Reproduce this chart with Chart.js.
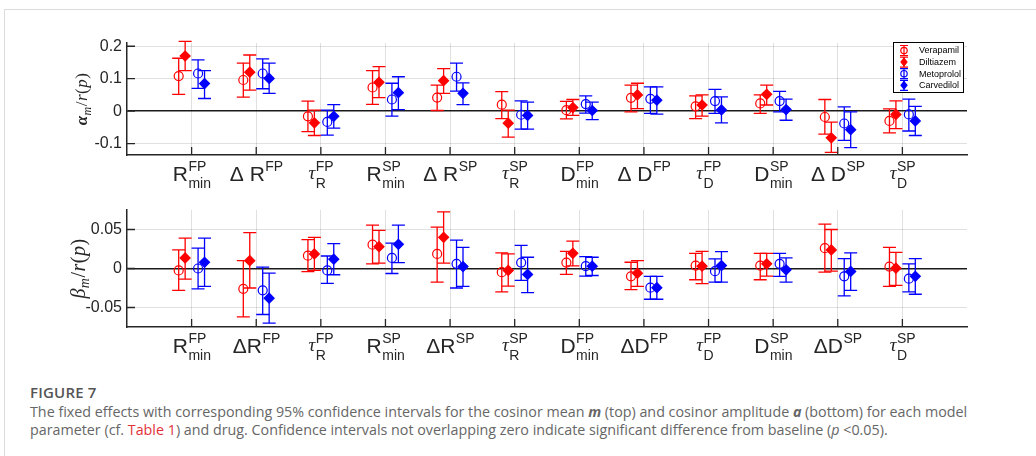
<!DOCTYPE html>
<html>
<head>
<meta charset="utf-8">
<script src="https://cdn.jsdelivr.net/npm/chart.js@4/dist/chart.umd.min.js"></script>
<style>
  html, body { margin: 0; padding: 0; background: #fff; }
  body { width: 1036px; height: 456px; overflow: hidden; position: relative; }
  #frame { position: absolute; left: 4px; top: 9px; width: 1100px; height: 500px; border: 1px solid #dcdcdc; }
  #topWrap { position: absolute; left: 0; top: 0; width: 1036px; height: 195px; }
  #botWrap { position: absolute; left: 0; top: 195px; width: 1036px; height: 175px; }
  #figTitle { position: absolute; left: 30px; top: 382px; font-family: "Open Sans", sans-serif; font-weight: 600; font-size: 15px; color: #555; letter-spacing: 0.2px; }
  #caption { position: absolute; left: 30px; top: 403px; font-family: "Open Sans", sans-serif; font-size: 14.3px; line-height: 18px; color: #666; white-space: nowrap; }
  #caption .red { color: #e2313a; }
</style>
</head>
<body>
<div id="frame"></div>
<div id="topWrap"><canvas id="topChart"></canvas></div>
<div id="botWrap"><canvas id="botChart"></canvas></div>
<div id="figTitle">FIGURE 7</div>
<div id="caption">The fixed effects with corresponding 95% confidence intervals for the cosinor mean <b><i>m</i></b> (top) and cosinor amplitude <b><i>a</i></b> (bottom) for each model<br>parameter (cf. <span class="red">Table 1</span>) and drug. Confidence intervals not overlapping zero indicate significant difference from baseline (<i>p</i> &lt;0.05).</div>

<script>
// model parameters (x categories)
const labelBaseTop = ['R', 'Δ R', 'τ', 'R', 'Δ R', 'τ', 'D', 'Δ D', 'τ', 'D', 'Δ D', 'τ'];
const labelBaseBot = ['R', 'ΔR', 'τ', 'R', 'ΔR', 'τ', 'D', 'ΔD', 'τ', 'D', 'ΔD', 'τ'];
const labelSup = ['FP', 'FP', 'FP', 'SP', 'SP', 'SP', 'FP', 'FP', 'FP', 'SP', 'SP', 'SP'];
const labelSub = ['min', '', 'R', 'min', '', 'R', 'min', '', 'D', 'min', '', 'D'];

const drugs = ['Verapamil', 'Diltiazem', 'Metoprolol', 'Carvedilol'];
const drugColors = ['#ff0000', '#ff0000', '#0000ff', '#0000ff'];
const drugMarkers = ['circle', 'rectRot', 'circle', 'rectRot'];
const drugFilled = [false, true, false, true];
const drugOffsets = [-0.2, -0.1, 0.1, 0.2];

// top panel: cosinor mean (alpha_m / r(p))
const topVer = [0.108, 0.096, -0.016, 0.073, 0.042, 0.020, 0.003, 0.041, 0.015, 0.024, -0.018, -0.030];
const topVerLo = [0.052, 0.043, -0.063, 0.021, 0.002, -0.023, -0.024, -0.002, -0.023, -0.007, -0.071, -0.067];
const topVerHi = [0.163, 0.148, 0.031, 0.125, 0.080, 0.060, 0.030, 0.080, 0.047, 0.050, 0.036, 0.007];
const topDil = [0.170, 0.120, -0.036, 0.089, 0.094, -0.037, 0.011, 0.050, 0.019, 0.052, -0.082, -0.010];
const topDilLo = [0.125, 0.065, -0.075, 0.042, 0.055, -0.080, -0.013, 0.008, -0.015, 0.019, -0.127, -0.054];
const topDilHi = [0.215, 0.173, 0.003, 0.137, 0.131, 0.003, 0.036, 0.086, 0.050, 0.080, -0.034, 0.032];
const topMet = [0.116, 0.116, -0.033, 0.036, 0.106, -0.011, 0.022, 0.038, 0.031, 0.031, -0.038, -0.010];
const topMetLo = [0.070, 0.069, -0.074, -0.015, 0.062, -0.055, -0.006, -0.007, -0.007, -0.002, -0.090, -0.061];
const topMetHi = [0.158, 0.161, 0.003, 0.086, 0.148, 0.032, 0.047, 0.075, 0.067, 0.061, 0.013, 0.037];
const topCar = [0.085, 0.101, -0.016, 0.057, 0.055, -0.013, 0.002, 0.034, 0.004, 0.005, -0.057, -0.030];
const topCarLo = [0.039, 0.055, -0.052, 0.005, 0.020, -0.055, -0.026, -0.009, -0.036, -0.028, -0.112, -0.075];
const topCarHi = [0.125, 0.148, 0.020, 0.106, 0.087, 0.028, 0.028, 0.075, 0.044, 0.037, -0.002, 0.015];

// bottom panel: cosinor amplitude (beta_m / r(p))
const botVer = [-0.0025, -0.026, 0.0165, 0.0305, 0.0187, -0.0047, 0.0076, -0.010, 0.0038, 0.0038, 0.026, 0.0025];
const botVerLo = [-0.028, -0.062, -0.004, 0.006, -0.0174, -0.030, -0.0076, -0.027, -0.0144, -0.0144, -0.0047, -0.023];
const botVerHi = [0.024, 0.010, 0.037, 0.0555, 0.053, 0.020, 0.022, 0.008, 0.0195, 0.0195, 0.057, 0.027];
const botDil = [0.0136, 0.010, 0.0187, 0.028, 0.040, -0.0025, 0.0195, -0.006, 0.003, 0.006, 0.0238, 0.0004];
const botDilLo = [-0.0136, -0.025, -0.0025, 0.0068, 0.0068, -0.0225, 0.0034, -0.023, -0.0195, -0.0098, -0.0034, -0.0216];
const botDilHi = [0.039, 0.046, 0.040, 0.049, 0.0725, 0.0187, 0.035, 0.010, 0.022, 0.0195, 0.050, 0.0207];
const botMet = [0.0, -0.028, -0.0025, 0.0136, 0.006, 0.0076, 0.003, -0.0246, -0.0034, 0.006, -0.010, -0.013];
const botMetLo = [-0.026, -0.059, -0.019, -0.0064, -0.025, -0.0153, -0.0098, -0.0394, -0.0174, -0.010, -0.035, -0.030];
const botMetHi = [0.026, 0.0017, 0.016, 0.0326, 0.0365, 0.0297, 0.0153, -0.010, 0.0123, 0.0195, 0.0127, 0.006];
const botCar = [0.008, -0.038, 0.012, 0.031, 0.0025, -0.0076, 0.003, -0.0246, 0.0038, -0.0017, -0.0038, -0.010];
const botCarLo = [-0.023, -0.070, -0.008, 0.0076, -0.023, -0.031, -0.009, -0.0394, -0.0174, -0.0174, -0.028, -0.033];
const botCarHi = [0.039, -0.006, 0.032, 0.0555, 0.027, 0.0144, 0.0144, -0.010, 0.0216, 0.0136, 0.020, 0.0127];

const yTicksTop = [-0.1, 0, 0.1, 0.2];
const yTicksBot = [-0.05, 0, 0.05];

const axisColor = '#262626';
const gridColor = 'rgba(38,38,38,0.14)';
const sansFont = '"Liberation Sans", Arial, sans-serif';
const serifFont = '"Liberation Serif", "Times New Roman", serif';

function buildDatasets(est, lo, hi) {
  return drugs.map((name, d) => ({
    label: name,
    data: est[d].map((v, i) => ({ x: i + 1 + drugOffsets[d], y: v, lo: lo[d][i], hi: hi[d][i] })),
    borderColor: drugColors[d],
    backgroundColor: drugFilled[d] ? drugColors[d] : 'rgba(0,0,0,0)',
    pointStyle: drugMarkers[d],
    pointRadius: drugFilled[d] ? 5 : 4.5,
    pointBorderWidth: 1.2,
    showLine: false
  }));
}

// error bars, inside ticks, math-style tick labels, y title and legend
const figurePlugin = {
  id: 'figure',
  beforeDatasetsDraw(chart) {
    const ctx = chart.ctx;
    const xs = chart.scales.x, ys = chart.scales.y;
    ctx.save();
    chart.data.datasets.forEach(ds => {
      ctx.strokeStyle = ds.borderColor;
      ctx.lineWidth = 1.3;
      ds.data.forEach(pt => {
        const x = xs.getPixelForValue(pt.x);
        const y1 = ys.getPixelForValue(pt.lo);
        const y2 = ys.getPixelForValue(pt.hi);
        ctx.beginPath();
        ctx.moveTo(x, y1); ctx.lineTo(x, y2);
        ctx.moveTo(x - 6.5, y1); ctx.lineTo(x + 6.5, y1);
        ctx.moveTo(x - 6.5, y2); ctx.lineTo(x + 6.5, y2);
        ctx.stroke();
      });
    });
    ctx.restore();
  },
  afterDraw(chart, args, opts) {
    const ctx = chart.ctx;
    const xs = chart.scales.x, ys = chart.scales.y;
    const area = chart.chartArea;
    ctx.save();

    // tick marks point inward
    ctx.strokeStyle = axisColor;
    ctx.lineWidth = 1.3;
    ctx.beginPath();
    ys.ticks.forEach(t => {
      const y = ys.getPixelForValue(t.value);
      ctx.moveTo(area.left, y); ctx.lineTo(area.left + 8, y);
    });
    xs.ticks.forEach(t => {
      const x = xs.getPixelForValue(t.value);
      ctx.moveTo(x, area.bottom); ctx.lineTo(x, area.bottom - 8);
    });
    ctx.stroke();

    // category labels with super/subscripts
    ctx.fillStyle = axisColor;
    ctx.textBaseline = 'alphabetic';
    ctx.textAlign = 'left';
    const base = area.bottom + 25.5;
    opts.bases.forEach((b, i) => {
      const isTau = b === 'τ';
      const mainFont = isTau ? 'italic 19px ' + serifFont : '21px ' + sansFont;
      const scriptFont = '14px ' + sansFont;
      ctx.font = mainFont;
      const wb = ctx.measureText(b).width;
      ctx.font = scriptFont;
      const ws = Math.max(ctx.measureText(labelSup[i]).width, ctx.measureText(labelSub[i]).width);
      const cx = xs.getPixelForValue(i + 1);
      const x0 = cx - (wb + ws) / 2;
      ctx.font = mainFont;
      ctx.fillText(b, x0, isTau ? base - 1.5 : base);
      ctx.font = scriptFont;
      ctx.fillText(labelSup[i], x0 + wb + 0.5, base - 9.5);
      if (labelSub[i]) ctx.fillText(labelSub[i], x0 + wb + 0.5, base + 7.5);
    });

    // rotated y-axis title in math style
    ctx.save();
    ctx.translate(opts.titleX, (area.top + area.bottom) / 2);
    ctx.rotate(-Math.PI / 2);
    const fs = opts.titleSize;
    const parts = [
      { t: opts.greek, f: (opts.greekBold ? 'bold ' : '') + 'italic ' + fs + 'px ' + serifFont, dy: 0 },
      { t: 'm', f: 'italic ' + Math.round(fs * 0.7) + 'px ' + serifFont, dy: fs * 0.22 },
      { t: '/', f: fs + 'px ' + serifFont, dy: 0 },
      { t: 'r', f: 'italic ' + fs + 'px ' + serifFont, dy: 0 },
      { t: '(', f: fs + 'px ' + serifFont, dy: 0 },
      { t: 'p', f: 'italic ' + fs + 'px ' + serifFont, dy: 0 },
      { t: ')', f: fs + 'px ' + serifFont, dy: 0 }
    ];
    let total = 0;
    parts.forEach(p => { ctx.font = p.f; p.w = ctx.measureText(p.t).width; total += p.w + 0.5; });
    let px = -total / 2;
    parts.forEach(p => { ctx.font = p.f; ctx.fillText(p.t, px, fs * 0.3 + p.dy); px += p.w + 0.5; });
    ctx.restore();

    // legend box
    if (opts.legend) {
      const lx = area.right - 74, ly = area.top - 1, lw = 70, lh = 50;
      ctx.fillStyle = '#fff';
      ctx.fillRect(lx, ly, lw, lh);
      ctx.strokeStyle = '#000';
      ctx.lineWidth = 1;
      ctx.strokeRect(lx + 0.5, ly + 0.5, lw, lh);
      chart.data.datasets.forEach((ds, d) => {
        const ey = ly + 8.5 + d * 11.6;
        const ex = lx + 11;
        ctx.strokeStyle = ds.borderColor;
        ctx.lineWidth = 1.2;
        ctx.beginPath();
        ctx.moveTo(ex, ey - 5); ctx.lineTo(ex, ey + 5);
        ctx.moveTo(ex - 4, ey - 5); ctx.lineTo(ex + 4, ey - 5);
        ctx.moveTo(ex - 4, ey + 5); ctx.lineTo(ex + 4, ey + 5);
        ctx.stroke();
        ctx.fillStyle = ds.backgroundColor;
        ctx.beginPath();
        if (drugFilled[d]) {
          ctx.moveTo(ex, ey - 3.8); ctx.lineTo(ex + 3, ey); ctx.lineTo(ex, ey + 3.8); ctx.lineTo(ex - 3, ey);
          ctx.closePath(); ctx.fill();
        } else {
          ctx.arc(ex, ey, 3.2, 0, Math.PI * 2);
        }
        ctx.stroke();
        ctx.fillStyle = '#000';
        ctx.font = '9px ' + sansFont;
        ctx.textBaseline = 'middle';
        ctx.fillText(ds.label, lx + 26, ey + 0.5);
      });
    }
    ctx.restore();
  }
};

function makeChart(id, datasets, cfg) {
  return new Chart(document.getElementById(id), {
    type: 'scatter',
    data: { datasets: datasets },
    plugins: [figurePlugin],
    options: {
      responsive: true,
      maintainAspectRatio: false,
      animation: false,
      events: [],
      layout: { padding: { left: 0, right: 69, top: cfg.padTop, bottom: 0 } },
      plugins: {
        legend: { display: false },
        tooltip: { enabled: false },
        figure: cfg.plugin
      },
      scales: {
        x: {
          type: 'linear',
          min: 0,
          max: 13,
          afterBuildTicks: s => { s.ticks = labelSup.map((_, i) => ({ value: i + 1 })); },
          afterFit: s => { s.height = cfg.xHeight; },
          ticks: { display: false },
          grid: { color: gridColor, lineWidth: 1, drawTicks: false },
          border: { color: axisColor, width: 1.5 }
        },
        y: {
          min: cfg.yMin,
          max: cfg.yMax,
          afterBuildTicks: s => { s.ticks = cfg.yTicks.map(v => ({ value: v })); },
          afterFit: s => { s.width = 127; },
          ticks: {
            color: axisColor,
            padding: 5,
            font: { family: sansFont, size: 16 },
            callback: v => String(v)
          },
          grid: {
            color: c => (c.tick && c.tick.value === 0 ? '#1a1a1a' : gridColor),
            lineWidth: c => (c.tick && c.tick.value === 0 ? 1.4 : 1),
            drawTicks: false
          },
          border: { color: axisColor, width: 1.5 }
        }
      }
    }
  });
}

makeChart('topChart',
  buildDatasets([topVer, topDil, topMet, topCar], [topVerLo, topDilLo, topMetLo, topCarLo], [topVerHi, topDilHi, topMetHi, topCarHi]),
  {
    padTop: 43, xHeight: 40, yMin: -0.135, yMax: 0.21, yTicks: yTicksTop,
    plugin: { bases: labelBaseTop, greek: 'α', greekBold: true, titleSize: 17, titleX: 82, legend: true }
  });

makeChart('botChart',
  buildDatasets([botVer, botDil, botMet, botCar], [botVerLo, botDilLo, botMetLo, botCarLo], [botVerHi, botDilHi, botMetHi, botCarHi]),
  {
    padTop: 15, xHeight: 43, yMin: -0.075, yMax: 0.075, yTicks: yTicksBot,
    plugin: { bases: labelBaseBot, greek: 'β', greekBold: false, titleSize: 20, titleX: 79, legend: false }
  });
</script>
</body>
</html>
